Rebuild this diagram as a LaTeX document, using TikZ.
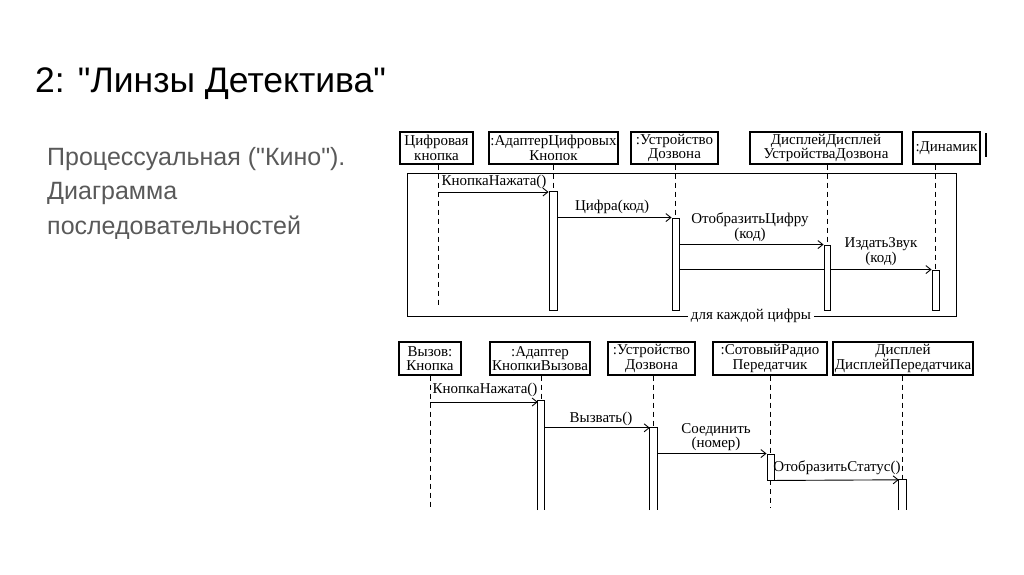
\documentclass[tikz,border=0pt]{standalone}
\usepackage{fontspec}
\setmainfont{Liberation Serif}
\newfontfamily\sansf{Liberation Sans}
\usetikzlibrary{arrows.meta}
\definecolor{bodygray}{RGB}{89,89,89}
\newcommand\dgfont{\fontsize{15}{14.5}\selectfont}
\begin{document}
\begin{tikzpicture}[x=1pt,y=-1pt,
 obj/.style={draw, line width=1.2pt, inner sep=0, align=center, font=\dgfont},
 life/.style={dash pattern=on 5pt off 4pt, line width=0.8pt},
 actbar/.style={draw, fill=white, line width=0.9pt, inner sep=0},
 openbar/.style={fill=white, inner sep=0},
 msg/.style={line width=0.9pt, -{Straight Barb[length=5pt,width=8pt]}},
 plainmsg/.style={line width=0.9pt},
 lbl/.style={font=\dgfont, inner sep=0, align=center},
 bodytxt/.style={anchor=base west, inner sep=0, text=bodygray, font=\sansf\fontsize{25}{29}\selectfont},
]
\useasboundingbox (0,0) rectangle (1024,574);

% title and text
\node[anchor=base west, inner sep=0, font=\sansf\fontsize{35.5}{40}\selectfont] (title) at (35,92) {2: "Линзы Детектива"};
\node[bodytxt] (t1) at (47,165) {Процессуальная ("Кино").};
\node[bodytxt] (t2) at (47,199.5) {Диаграмма};
\node[bodytxt] (t3) at (47,234) {последовательностей};

% ---------- top diagram ----------
\node[obj, minimum width=73, minimum height=32] (b1) at (436.5,148) {Цифровая\\кнопка};
\node[obj, minimum width=129, minimum height=32] (b2) at (553.5,148) {:АдаптерЦифровых\\Кнопок};
\node[obj, minimum width=87, minimum height=32] (b3) at (674.5,148) {:Устройство\\Дозвона};
\node[obj, minimum width=152, minimum height=32] (b4) at (826,148) {ДисплейДисплей\\УстройстваДозвона};
\node[obj, minimum width=67, minimum height=32] (b5) at (946.5,148) {:Динамик};
\draw[line width=1.6pt] (986,133) -- (986,157);

% frame
\node[lbl, fill=white, inner xsep=3pt] (loop) at (751,316) {для каждой цифры};
\draw[line width=1pt] (loop.west) -- (407,316) -- (407,173) -- (956,173) -- (956,316) -- (loop.east);

% activation bars
\node[actbar, minimum width=8, minimum height=119] (a1) at (553,250.5) {};
\node[actbar, minimum width=7, minimum height=92] (a2) at (675.5,264) {};
\node[actbar, minimum width=6, minimum height=65] (a3) at (827,277.5) {};
\node[actbar, minimum width=7, minimum height=40] (a4) at (935.5,290) {};

% lifelines
\coordinate (e1) at (438,308);
\draw[life] (b1.south -| e1) -- (e1);
\draw[life] (b2.south -| a1.north) -- (a1.north);
\draw[life] (b3.south -| a2.north) -- (a2.north);
\draw[life] (b4.south -| a3.north) -- (a3.north);
\draw[life] (b5.south -| a4.north) -- (a4.north);

% messages
\coordinate (m1s) at (438,192);
\draw[msg] (m1s) -- (m1s -| a1.west);
\node[lbl] (m1l) at (494,182) {КнопкаНажата()};
\draw[msg] (a1.east |- a2.north) -- (a2.north west);
\node[lbl] (m2l) at (612,207) {Цифра(код)};
\draw[msg] (a2.east |- a3.north) -- (a3.north west);
\node[lbl] (m3l) at (750,227) {ОтобразитьЦифру\\(код)};
\draw[plainmsg] (a2.east |- a4.north) -- (a3.west |- a4.north);
\draw[msg] (a3.east |- a4.north) -- (a4.north west);
\node[lbl] (m4l) at (881,251.5) {ИздатьЗвук\\(код)};

% ---------- bottom diagram ----------
\node[obj, minimum width=62, minimum height=33] (c1) at (430,358.5) {Вызов:\\Кнопка};
\node[obj, minimum width=100, minimum height=33] (c2) at (540,358.5) {:Адаптер\\КнопкиВызова};
\node[obj, minimum width=87, minimum height=33] (c3) at (651.5,358.5) {:Устройство\\Дозвона};
\node[obj, minimum width=114, minimum height=33] (c4) at (770,358.5) {:СотовыйРадио\\Передатчик};
\node[obj, minimum width=140, minimum height=33] (c5) at (903,358.5) {Дисплей\\ДисплейПередатчика};

% bars
\node[openbar, minimum width=6, minimum height=109] (d2) at (541,455.5) {};
\draw[line width=0.9pt] (d2.south west) -- (d2.north west) -- (d2.north east) -- (d2.south east);
\node[openbar, minimum width=7, minimum height=82] (d3) at (653.5,469) {};
\draw[line width=0.9pt] (d3.south west) -- (d3.north west) -- (d3.north east) -- (d3.south east);
\node[actbar, minimum width=7, minimum height=26] (d4) at (770.5,467) {};
\node[openbar, minimum width=7, minimum height=30] (d5) at (902.5,495) {};
\draw[line width=0.9pt] (d5.south west) -- (d5.north west) -- (d5.north east) -- (d5.south east);

% lifelines
\coordinate (f1) at (430,508);
\coordinate (f4) at (770.5,508);
\draw[life] (c1.south) -- (f1);
\draw[life] (c2.south -| d2.north) -- (d2.north);
\draw[life] (c3.south -| d3.north) -- (d3.north);
\draw[life] (c4.south -| d4.north) -- (d4.north);
\draw[life] (d4.south) -- (f4);
\draw[life] (c5.south -| d5.north) -- (d5.north);

% messages
\coordinate (n1s) at (430,402);
\draw[msg] (n1s) -- (n1s -| d2.west);
\node[lbl] (n1l) at (485,390) {КнопкаНажата()};
\draw[msg] (d2.east |- d3.north) -- (d3.north west);
\node[lbl] (n2l) at (601,419) {Вызвать()};
\draw[msg] (d3.east |- d4.north) -- (d4.north west);
\node[lbl] (n3l) at (716,437) {Соединить\\(номер)};
\draw[msg] (d4.south east) -- (d5.north west);
\node[lbl] (n4l) at (837,468) {ОтобразитьСтатус()};
\end{tikzpicture}
\end{document}
